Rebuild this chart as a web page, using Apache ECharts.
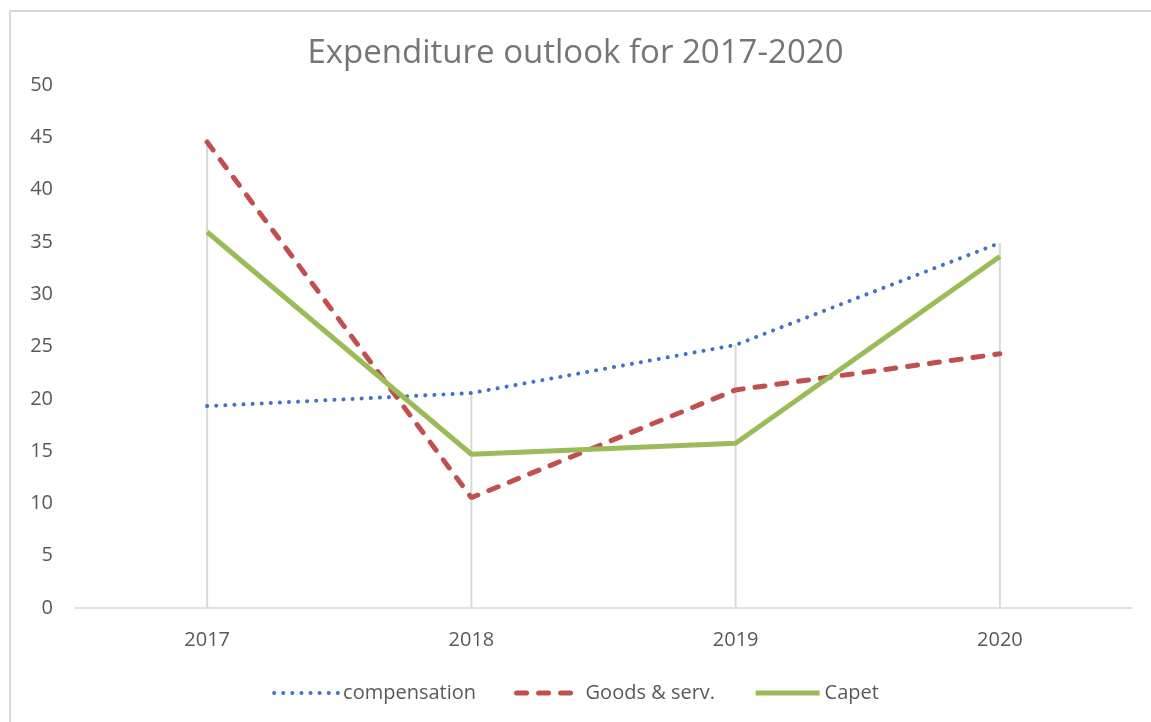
<!DOCTYPE html>
<html>
<head>
<meta charset="utf-8">
<script src="https://cdn.jsdelivr.net/npm/echarts@6/dist/echarts.min.js"></script>
<style>
  html, body { margin: 0; padding: 0; background: #fff; }
  #chart { width: 1151px; height: 722px; }
</style>
</head>
<body>
<div id="chart"></div>
<script>
// data
var years = ["2017", "2018", "2019", "2020"];
var compensation = [19.3, 20.55, 25.15, 34.9];
var goodsServ = [44.55, 10.55, 20.85, 24.3];
var capet = [35.95, 14.7, 15.75, 33.6];
var yTicks = { min: 0, max: 50, step: 5 };

// excel-style drop lines: from the highest point down to the axis
var dropLines = years.map(function (y, i) {
  return Math.max(compensation[i], goodsServ[i], capet[i]);
});

var font = "'Open Sans', 'Noto Sans', sans-serif";
var hideDot = { opacity: 0 };
var myChart = echarts.init(document.getElementById("chart"));
myChart.setOption({
  backgroundColor: "#fff",
  animation: false,
  title: {
    text: "Expenditure outlook for 2017-2020",
    left: "center",
    top: 32,
    textStyle: { color: "#757575", fontSize: 33, fontWeight: "normal", fontFamily: font }
  },
  graphic: [
    {
      type: "rect",
      shape: { x: 10, y: 11, width: 1160, height: 740 },
      style: { fill: "none", stroke: "#d9d9d9", lineWidth: 2 },
      silent: true
    }
  ],
  legend: {
    bottom: 14,
    left: "center",
    itemWidth: 64,
    itemHeight: 12,
    itemGap: 38,
    textStyle: { color: "#595959", fontSize: 20, fontFamily: font },
    data: [
      { name: "compensation", itemStyle: hideDot, lineStyle: { width: 4 } },
      { name: "Goods & serv.", itemStyle: hideDot, lineStyle: { width: 5 } },
      { name: "Capet", itemStyle: hideDot, lineStyle: { width: 5 } }
    ]
  },
  grid: { left: 75, right: 19, top: 85, bottom: 114 },
  xAxis: {
    type: "category",
    data: years,
    boundaryGap: true,
    axisLine: { lineStyle: { color: "#d9d9d9", width: 1.5 } },
    axisTick: { show: false },
    axisLabel: { color: "#595959", fontSize: 20, fontFamily: font, margin: 22 },
    splitLine: { show: false }
  },
  yAxis: {
    type: "value",
    min: yTicks.min,
    max: yTicks.max,
    interval: yTicks.step,
    axisLine: { show: false },
    axisTick: { show: false },
    axisLabel: { color: "#595959", fontSize: 20, fontFamily: font, margin: 22 },
    splitLine: { show: false }
  },
  series: [
    {
      name: "drop",
      type: "bar",
      data: dropLines,
      barWidth: 2,
      itemStyle: { color: "#d9d9d9" },
      silent: true,
      z: 1
    },
    {
      name: "compensation",
      type: "line",
      data: compensation,
      symbol: "none",
      lineStyle: { color: "#4472c4", width: 4, type: [0.1, 9], cap: "round" },
      itemStyle: { color: "#4472c4" },
      z: 3
    },
    {
      name: "Goods & serv.",
      type: "line",
      data: goodsServ,
      symbol: "none",
      lineStyle: { color: "#c0504d", width: 5, type: [10, 12], cap: "round" },
      itemStyle: { color: "#c0504d" },
      z: 3
    },
    {
      name: "Capet",
      type: "line",
      data: capet,
      symbol: "none",
      lineStyle: { color: "#9bbb59", width: 5 },
      itemStyle: { color: "#9bbb59" },
      z: 3
    }
  ]
});
</script>
</body>
</html>
